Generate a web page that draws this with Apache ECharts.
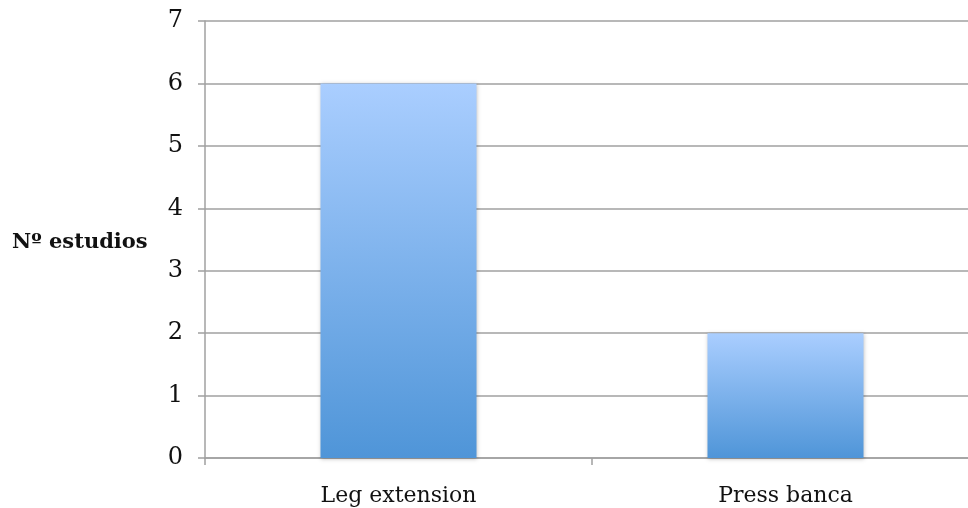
<!DOCTYPE html>
<html><head><meta charset="utf-8">
<script src="https://cdn.jsdelivr.net/npm/echarts@6/dist/echarts.min.js"></script>
<style>html,body{margin:0;padding:0;background:#fff;overflow:hidden}#c{width:980px;height:508px}</style>
</head><body><div id="c"></div>
<script>
const categories = ['Leg extension', 'Press banca'];
const values = [6, 2];
const yTicks = [0, 1, 2, 3, 4, 5, 6, 7];
const yTitle = 'Nº estudios';

const chart = echarts.init(document.getElementById('c'));
const font = '"DejaVu Serif", "Liberation Serif", serif';
chart.setOption({
  animation: false,
  grid: { left: 205, top: 21, right: 1, bottom: 50, containLabel: false },
  xAxis: {
    type: 'category', data: categories,
    axisLine: { lineStyle: { color: '#a0a0a0', width: 1.5 } },
    axisTick: { show: true, length: 7, lineStyle: { color: '#a0a0a0', width: 1.5 } },
    axisLabel: { color: '#111', fontFamily: font, fontSize: 22, margin: 27 }
  },
  yAxis: {
    type: 'value', min: yTicks[0], max: yTicks[yTicks.length - 1], interval: 1,
    axisLine: { show: true, lineStyle: { color: '#a0a0a0', width: 1.5 } },
    axisTick: { show: true, length: 7, lineStyle: { color: '#a0a0a0', width: 1.5 } },
    splitLine: { lineStyle: { color: '#a0a0a0', width: 1.5 } },
    axisLabel: { color: '#111', fontFamily: font, fontSize: 24, margin: 22 }
  },
  graphic: [{
    type: 'text', left: 12, top: 232,
    style: { text: yTitle, font: 'bold 21px ' + font, fill: '#111' }
  }],
  series: [{
    type: 'bar', data: values, barWidth: 156,
    itemStyle: {
      color: new echarts.graphic.LinearGradient(0, 0, 0, 1, [
        { offset: 0, color: '#aaceff' },
        { offset: 1, color: '#4f95d8' }
      ]),
      shadowColor: 'rgba(0,0,0,0.25)', shadowBlur: 4, shadowOffsetY: 1
    }
  }]
});
</script></body></html>
